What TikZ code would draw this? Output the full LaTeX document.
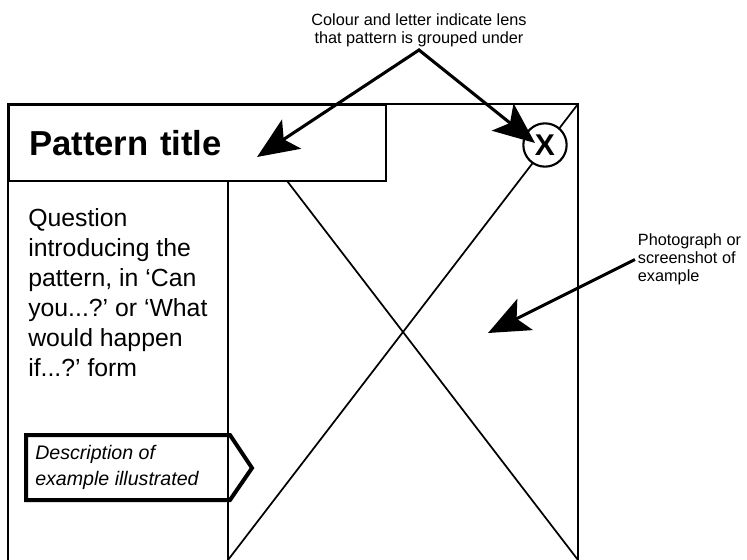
\documentclass[tikz,border=0pt]{standalone}
\usepackage{fontspec}
\setmainfont{Liberation Sans}
\usepackage{tikz}
\usetikzlibrary{arrows.meta, positioning}
\frenchspacing

\tikzset{
  frameline/.style={line width=1.8pt},
  crossline/.style={line width=1.3pt},
  bigtip/.tip={Stealth[length=31pt, width=26pt, inset=7pt]},
  callout/.style={line width=2.3pt, line join=miter, -bigtip},
  note/.style={inner sep=2pt, font=\fontsize{12.2}{13.5}\selectfont},
}

\begin{document}
\begin{tikzpicture}[x=0.75pt, y=-0.75pt]
  \useasboundingbox (0,0) rectangle (747,560);

  % Outer page frame, open at the bottom
  \draw[frameline] (8,560) -- (8,104) -- (578,104) -- (578,560);
  \draw[frameline] (228,180) -- (228,560);

  % Picture area with a cross
  \draw[crossline] (228,104) -- (578,560);
  \draw[crossline] (578,104) -- (228,560);

  % Title box
  \node[draw, frameline, fill=white, anchor=north west, inner xsep=15pt, text width=252.75pt, minimum height=57pt, align=left, font=\fontsize{26}{30}\selectfont\bfseries] (title) at (8,104) {Pattern title};

  % Lens badge
  \node[draw, circle, line width=1.6pt, fill=white, minimum size=32.5pt, inner sep=0pt, font=\fontsize{22.5}{27}\selectfont\bfseries] (lens) at (545,145) {X};

  % Question text
  \node[anchor=north west, inner sep=0pt, align=left, font=\fontsize{18.6}{22.5}\selectfont] (question) at (28,208) {Question\\introducing the\\pattern, in `Can\\you...?' or `What\\would happen\\if...?' form};

  % Description tag
  \draw[line width=3pt, line join=miter] (26,435) -- (230,435) -- (252,468) -- (230,500) -- (26,500) -- cycle;
  \node[anchor=north west, inner sep=0pt, align=left, font=\fontsize{14.7}{19.5}\selectfont\itshape] (desc) at (35,445) {Description of\\example illustrated};

  % Annotations
  \node[note, anchor=south, align=center] (lensnote) at (419,50) {Colour and letter indicate lens\\that pattern is grouped under};
  \node[note, anchor=north west, align=left] (photonote) at (635,231) {Photograph or\\screenshot of\\example};

  \coordinate (titletip) at (257,157);
  \coordinate (lenstip) at (535,143);
  \coordinate (phototip) at (488,333);

  \draw[callout, bigtip-bigtip] (titletip) -- (lensnote.south) -- (lenstip);
  \draw[callout] (photonote.west) -- (phototip);
\end{tikzpicture}
\end{document}
